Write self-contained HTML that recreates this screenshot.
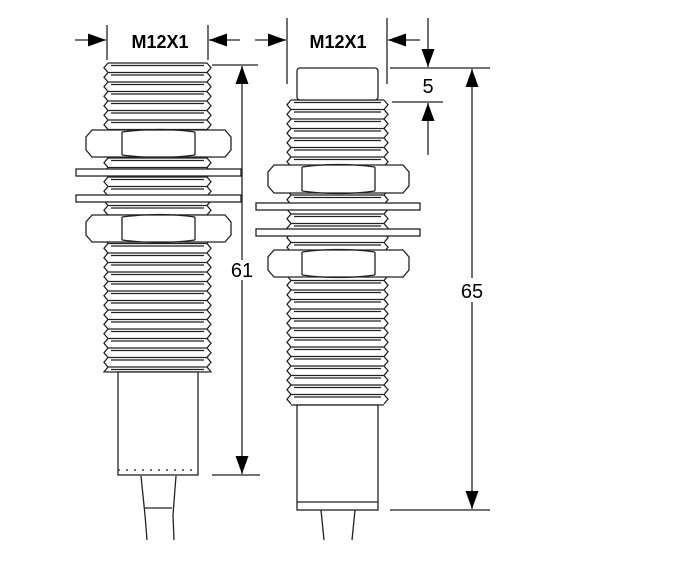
<!DOCTYPE html>
<html><head><meta charset="utf-8"><style>
body{margin:0;background:#fff}
svg{display:block}
text{font-family:"Liberation Sans",sans-serif;fill:#000}
</style></head><body>
<svg id="s" width="700" height="577" viewBox="0 0 700 577" xmlns="http://www.w3.org/2000/svg" stroke="#222" fill="none" stroke-width="1.3">
<defs>
<marker id="a" viewBox="0 0 10 10" refX="10" refY="5" markerWidth="18" markerHeight="13" markerUnits="userSpaceOnUse" orient="auto" preserveAspectRatio="none"><path d="M0,0L10,5L0,10z" fill="#000" stroke="none"/></marker>
</defs>
<g id="g"></g>
<rect x="118" y="372" width="80" height="103" fill="#fff"/>
<line x1="118" y1="470" x2="198" y2="470" stroke-dasharray="2 6"/>
<path d="M141,476 L145,515 L147,540 M176,476 L173,515 L174,540 M145,508 L172,508"/>
<rect x="297" y="68" width="81" height="32" rx="3" fill="#fff"/>
<rect x="297" y="405" width="81" height="105" fill="#fff"/>
<line x1="297" y1="502" x2="378" y2="502"/>
<path d="M321,510 L324,540 M355,510 L352,540"/>
<path d="M107,25V60 M208,25V60"/>
<path d="M75,40H106" marker-end="url(#a)"/><path d="M240,40H209" marker-end="url(#a)"/>
<text x="160" y="48" font-size="18" text-anchor="middle" stroke="none" font-family="Liberation Mono" font-weight="bold">M12X1</text>
<path d="M212,65H258 M212,475H260"/>
<path d="M242,260V66" marker-end="url(#a)"/><path d="M242,280V474" marker-end="url(#a)"/>
<text x="242" y="277" font-size="20" text-anchor="middle" stroke="none">61</text>
<path d="M287,18V84 M387,18V84"/>
<path d="M255,40H286" marker-end="url(#a)"/><path d="M420,40H388" marker-end="url(#a)"/>
<text x="338" y="48" font-size="18" text-anchor="middle" stroke="none" font-family="Liberation Mono" font-weight="bold">M12X1</text>
<path d="M390,68H490 M392,102H443 M390,510H490"/>
<path d="M428,18V67" marker-end="url(#a)"/><path d="M428,155V103" marker-end="url(#a)"/>
<text x="428" y="93" font-size="20" text-anchor="middle" stroke="none" font-family="Liberation Serif">5</text>
<path d="M472,278V69" marker-end="url(#a)"/><path d="M472,302V509" marker-end="url(#a)"/>
<text x="472" y="298" font-size="20" text-anchor="middle" stroke="none">65</text>
</svg>
<script>
var g=document.getElementById('g'),NS='http://www.w3.org/2000/svg';
function el(t,a){var e=document.createElementNS(NS,t);for(var k in a)e.setAttribute(k,a[k]);g.appendChild(e);return e;}
function thread(x0,x1,y0,y1){var p=9.5,d='',l='M'+x0+','+y0,r='M'+x1+','+y0;
 el('rect',{x:x0,y:y0,width:x1-x0,height:y1-y0,fill:'#fff',stroke:'none'});
 for(var y=y0;y<y1-1;y+=p){var m=Math.min(y+p,y1);d+='M'+x0+','+y+'H'+x1+'M'+(x0+3)+','+(y+2.5)+'H'+(x1-3);
  l+='L'+(x0-4)+','+(y+p/2)+'L'+x0+','+m;r+='L'+(x1+4)+','+(y+p/2)+'L'+x1+','+m;}
 d+='M'+x0+','+y1+'H'+x1;el('path',{d:d+l+r});}
function nut(x0,x1,y0,y1,i0,i1){
 el('path',{d:'M'+(x0+6)+','+y0+'H'+(x1-6)+'L'+x1+','+(y0+7)+'V'+(y1-7)+'L'+(x1-6)+','+y1+'H'+(x0+6)+'L'+x0+','+(y1-7)+'V'+(y0+7)+'Z',fill:'#fff'});
 el('path',{d:'M'+i0+','+(y0+2)+'V'+(y1-2)+'M'+i1+','+(y0+2)+'V'+(y1-2)+
 'M'+i0+','+(y0+2)+'Q'+((i0+i1)/2)+','+(y0-3)+' '+i1+','+(y0+2)+
 'M'+i0+','+(y1-2)+'Q'+((i0+i1)/2)+','+(y1+3)+' '+i1+','+(y1-2)});}
function washer(x0,x1,y){el('rect',{x:x0,y:y,width:x1-x0,height:7,fill:'#fff'});}
thread(108,207,63,372);
nut(86,231,130,157,122,195);nut(86,231,215,242,122,195);
washer(76,241,169);washer(76,241,195);
thread(291,384,100,405);
nut(268,409,165,193,302,375);nut(268,409,250,277,302,375);
washer(256,420,203);washer(256,420,229);
</script>
</body></html>
